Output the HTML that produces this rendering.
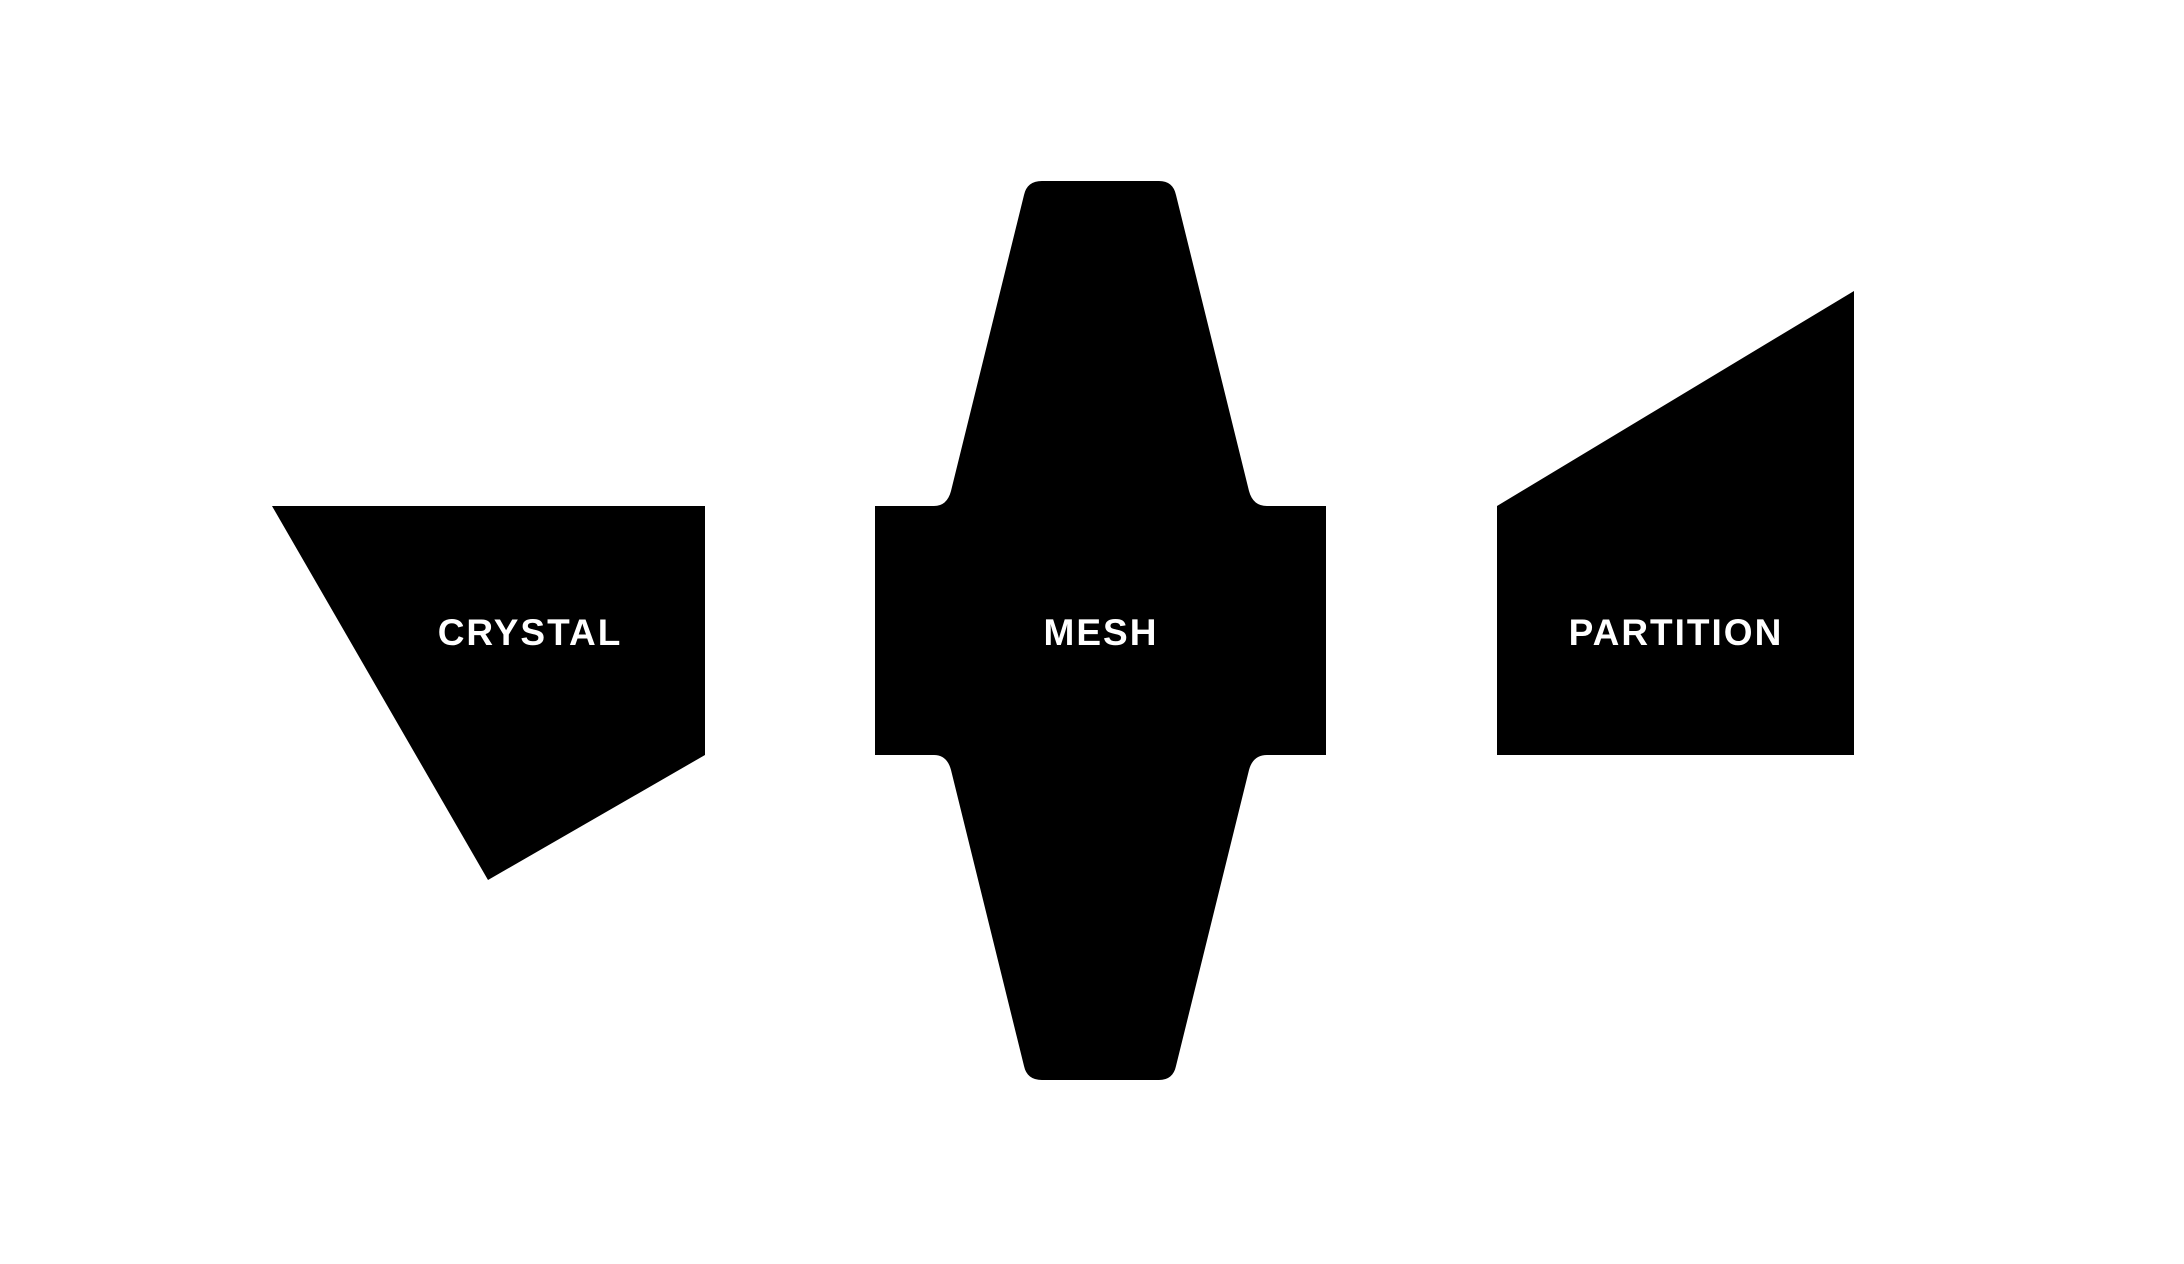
<!DOCTYPE html>
<html><head><style>
html,body{margin:0;padding:0;background:#fff;width:2184px;height:1264px;overflow:hidden}
svg{display:block}
text{font-family:"Liberation Sans",sans-serif;font-weight:bold;font-size:37px;fill:#fff;letter-spacing:2px}
</style></head><body>
<svg width="2184" height="1264" viewBox="0 0 2184 1264">
<polygon points="272,506 705,506 705,755 488,880" fill="#000"/>
<path d="M875,506 L934,506 Q947,506 951,491 L1024,195 Q1027,181 1042,181 L1159,181 Q1173,181 1176,195 L1249,491 Q1253,506 1267,506 L1326,506 L1326,755 L1267,755 Q1253,755 1249,770 L1176,1066 Q1173,1080 1159,1080 L1042,1080 Q1027,1080 1024,1066 L951,770 Q947,755 934,755 L875,755 Z" fill="#000"/>
<polygon points="1497,506 1854,291 1854,755 1497,755" fill="#000"/>
<text x="530" y="645" text-anchor="middle">CRYSTAL</text>
<text x="1101" y="645" text-anchor="middle">MESH</text>
<text x="1676" y="645" text-anchor="middle">PARTITION</text>
</svg>
</body></html>
